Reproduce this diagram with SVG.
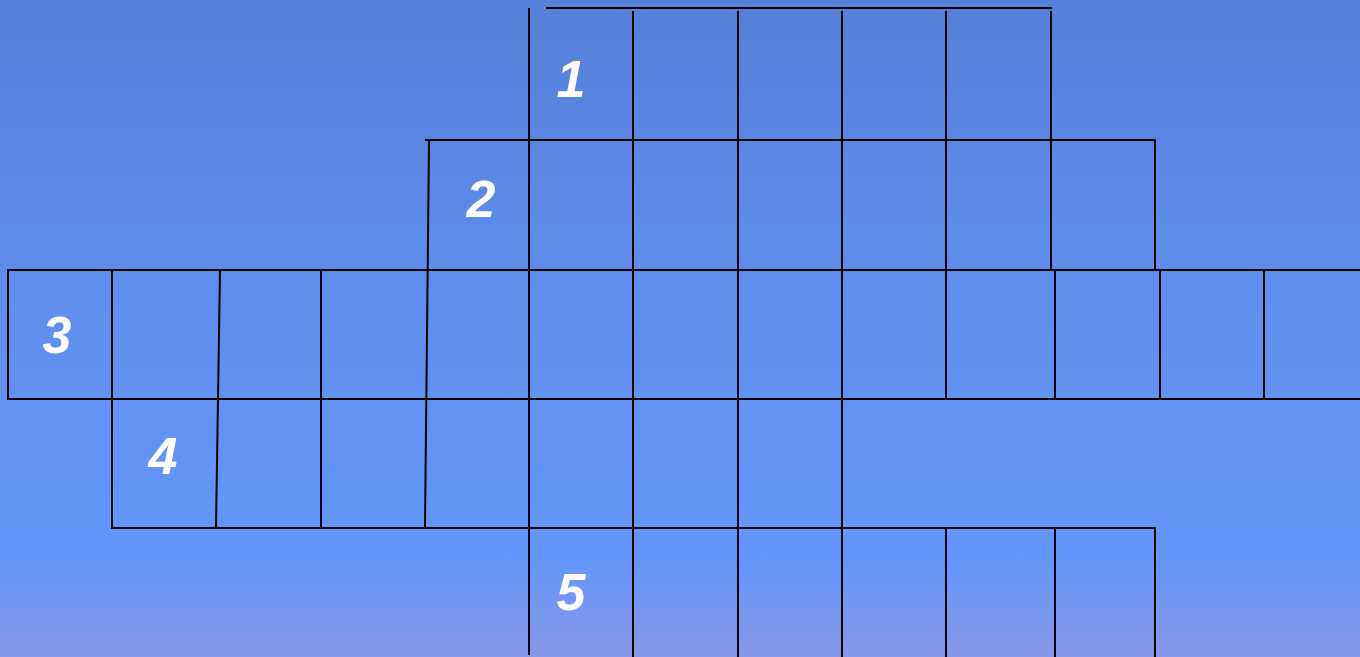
<svg xmlns="http://www.w3.org/2000/svg" width="1360" height="657" viewBox="0 0 1360 657">
<defs>
<linearGradient id="bg" x1="0" y1="0" x2="0" y2="1">
<stop offset="0" stop-color="#5480D8"/>
<stop offset="0.6" stop-color="#6292F2"/>
<stop offset="0.85" stop-color="#6497FC"/>
<stop offset="1" stop-color="#8697E6"/>
</linearGradient>
<style>
.g line{stroke:#000;stroke-width:2;stroke-linecap:square}
.n{font-family:"Liberation Sans",Arial,sans-serif;font-weight:bold;font-style:italic;font-size:52px;fill:#fff;text-anchor:middle}
</style>
</defs>
<rect width="1360" height="657" fill="url(#bg)"/>
<g id="grid" class="g">
<line x1="547" y1="8" x2="1051" y2="8"/>
<line x1="426" y1="140" x2="1155" y2="140"/>
<line x1="8" y1="270" x2="1360" y2="270"/>
<line x1="8" y1="399" x2="1360" y2="399"/>
<line x1="112" y1="528" x2="1155" y2="528"/>
<line x1="529" y1="9" x2="529" y2="654"/>
<line x1="633" y1="12" x2="633" y2="657"/>
<line x1="738" y1="12" x2="738" y2="657"/>
<line x1="842" y1="12" x2="842" y2="657"/>
<line x1="946" y1="12" x2="946" y2="399"/>
<line x1="1051" y1="12" x2="1051" y2="270"/>
<line x1="1155" y1="140" x2="1155" y2="270"/>
<line x1="429" y1="141" x2="425" y2="528"/>
<line x1="8" y1="270" x2="8" y2="399"/>
<line x1="112" y1="270" x2="112" y2="528"/>
<line x1="220" y1="270" x2="216" y2="528"/>
<line x1="321" y1="270" x2="321" y2="528"/>
<line x1="1055" y1="270" x2="1055" y2="399"/>
<line x1="1160" y1="270" x2="1160" y2="399"/>
<line x1="1264" y1="270" x2="1264" y2="399"/>
<line x1="946" y1="528" x2="946" y2="657"/>
<line x1="1055" y1="528" x2="1055" y2="657"/>
<line x1="1155" y1="528" x2="1155" y2="657"/>
</g>
<g id="labels">
<text id="n1" class="n" x="571" y="97">1</text>
<text id="n2" class="n" x="481" y="217">2</text>
<text id="n3" class="n" x="57" y="353">3</text>
<text id="n4" class="n" x="163" y="474">4</text>
<text id="n5" class="n" x="571" y="610">5</text>
</g>
</svg>
